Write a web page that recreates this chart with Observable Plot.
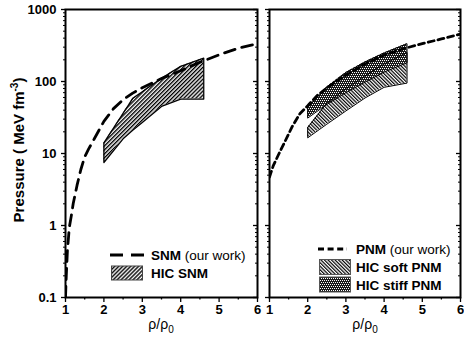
<!DOCTYPE html>
<html><head><meta charset="utf-8">
<script src="https://cdn.jsdelivr.net/npm/d3@7"></script>
<script src="https://cdn.jsdelivr.net/npm/@observablehq/plot@0.6"></script>
<style>
body{margin:0;background:#fff;}
#wrap{position:relative;width:464px;height:340px;}
</style></head><body><div id="wrap"></div>
<script>
// ---- data ----
const snmRho = [1.0, 1.02, 1.05, 1.1, 1.15, 1.2, 1.3, 1.4, 1.5, 1.6, 1.75, 2, 2.25, 2.5, 2.75, 3, 3.5, 4, 4.5, 5, 5.5, 6];
const snmP   = [0.1, 0.2, 0.45, 0.95, 1.35, 2.0, 3.6, 6.0, 9.0, 11.5, 16, 28, 42, 56, 69, 82, 110, 141, 185, 235, 290, 335];
const pnmRho = [1.0, 1.1, 1.25, 1.4, 1.6, 1.8, 2.0, 2.25, 2.5, 2.75, 3, 3.5, 4, 4.5, 5, 5.5, 6];
const pnmP   = [4.7, 6.8, 10, 14.5, 24, 36, 46, 64, 81, 100, 122, 175, 232, 285, 335, 390, 455];
const hicSnmRho = [2, 2.5, 2.75, 3, 3.5, 4, 4.6];
const hicSnmLo  = [7.5, 16, 21, 27, 45, 57, 57];
const hicSnmHi  = [14, 36, 58, 72, 111, 162, 211];
const hicPnmRho  = [2, 2.5, 3, 3.5, 4, 4.6];
const hicSoftLo  = [16.5, 25.5, 39, 59, 83, 95];
const hicSoftHi  = [23, 50, 80, 120, 175, 253];
const hicStiffLo = [31, 48, 70, 98, 135, 182];
const hicStiffHi = [43.5, 84, 133, 187, 249, 335];
const yTicks = [0.1, 1, 10, 100, 1000];
const yTickLabels = ["0.1", "1", "10", "100", "1000"];
const xTicks = [1, 2, 3, 4, 5, 6];
const xTickLabels = ["1", "2", "3", "4", "5", "6"];
const xMinor = [1.5, 2.5, 3.5, 4.5, 5.5];
const yMinor = [0.2,0.3,0.4,0.5,0.6,0.7,0.8,0.9,2,3,4,5,6,7,8,9,20,30,40,50,60,70,80,90,200,300,400,500,600,700,800,900];
const legendSNM = ["SNM", " (our work)", "HIC SNM"];
const legendPNM = ["PNM", " (our work)", "HIC soft PNM", "HIC stiff PNM"];

// ---- helpers ----
const FONT = "'Liberation Sans', Arial, Helvetica, sans-serif";
const curve = (xs, ys) => xs.map((x, i) => ({rho: x, p: ys[i]}));
const band = (xs, lo, hi) => xs.map((x, i) => ({rho: x, lo: lo[i], hi: hi[i]}));
const outline = (xs, lo, hi) => {
  const pts = xs.map((x, i) => ({rho: x, p: hi[i]}));
  for (let i = xs.length - 1; i >= 0; i--) pts.push({rho: xs[i], p: lo[i]});
  pts.push({rho: xs[0], p: hi[0]});
  return pts;
};

function axes(showLabels, plotW) {
  return [
    Plot.frame({stroke: "#000", strokeWidth: 2}),
    Plot.axisY(yTicks, {anchor: "left", tickSize: 4, tickPadding: 5, strokeWidth: 1.3,
      tickFormat: d => showLabels ? yTickLabels[yTicks.indexOf(d)] : "", label: null}),
    Plot.axisY(yMinor, {anchor: "left", tickSize: 2, strokeWidth: 1, tickFormat: () => "", label: null}),
    Plot.ruleY(yTicks, {stroke: "#000", strokeWidth: 1.3, insetLeft: plotW - 4}),
    Plot.ruleY(yMinor, {stroke: "#000", strokeWidth: 1, insetLeft: plotW - 2}),
    Plot.axisX(xTicks, {anchor: "bottom", tickSize: 5, tickPadding: 2, strokeWidth: 1.3,
      tickFormat: d => xTickLabels[xTicks.indexOf(d)], label: null}),
    Plot.axisX(xMinor, {anchor: "bottom", tickSize: 2.5, strokeWidth: 1.3, tickFormat: () => "", label: null})
  ];
}

const common = {
  height: 340, marginTop: 9, marginBottom: 43,
  x: {domain: [1, 6]},
  y: {type: "log", domain: [0.1, 1000]}
};
const baseStyle = {fontFamily: FONT, fontSize: "13px", fontWeight: "bold", color: "#000",
  background: "transparent", overflow: "visible", position: "absolute", top: "0px"};

// ---- left panel (SNM) ----
const left = Plot.plot({
  ...common, width: 260, marginLeft: 65, marginRight: 3,
  style: {...baseStyle, left: "0px"},
  marks: [
    Plot.areaY(band(hicSnmRho, hicSnmLo, hicSnmHi), {x: "rho", y1: "lo", y2: "hi", fill: "url(#hSNM)"}),
    Plot.line(outline(hicSnmRho, hicSnmLo, hicSnmHi), {x: "rho", y: "p", stroke: "#000", strokeWidth: 1.3}),
    Plot.line(curve(snmRho, snmP), {x: "rho", y: "p", stroke: "#000", strokeWidth: 2.8, strokeDasharray: "11,7", clip: true}),
    ...axes(true, 192)
  ]
});

// ---- right panel (PNM) ----
const right = Plot.plot({
  ...common, width: 204, marginLeft: 9, marginRight: 4,
  style: {...baseStyle, left: "260px"},
  marks: [
    Plot.areaY(band(hicPnmRho, hicSoftLo, hicSoftHi), {x: "rho", y1: "lo", y2: "hi", fill: "url(#hSoft)"}),
    Plot.areaY(band(hicPnmRho, hicStiffLo, hicStiffHi), {x: "rho", y1: "lo", y2: "hi", fill: "url(#hStiff)"}),
    Plot.line(outline(hicPnmRho, hicSoftLo, hicSoftHi), {x: "rho", y: "p", stroke: "#000", strokeWidth: 1}),
    Plot.line(outline(hicPnmRho, hicStiffLo, hicStiffHi), {x: "rho", y: "p", stroke: "#000", strokeWidth: 1}),
    Plot.line(curve(pnmRho, pnmP), {x: "rho", y: "p", stroke: "#000", strokeWidth: 2.8, strokeDasharray: "6,4", clip: true}),
    ...axes(false, 191)
  ]
});

const wrap = document.getElementById("wrap");
wrap.append(left, right);

// ---- patterns ----
const dl = d3.select(left).insert("defs", ":first-child");
dl.append("pattern").attr("id", "hSNM").attr("patternUnits", "userSpaceOnUse")
  .attr("width", 2.8).attr("height", 10).attr("patternTransform", "rotate(45)")
  .append("rect").attr("x", 0).attr("y", 0).attr("width", 1.4).attr("height", 10).attr("fill", "#000");
const dr = d3.select(right).insert("defs", ":first-child");
dr.append("pattern").attr("id", "hSoft").attr("patternUnits", "userSpaceOnUse")
  .attr("width", 2.5).attr("height", 10).attr("patternTransform", "rotate(-45)")
  .append("rect").attr("x", 0).attr("y", 0).attr("width", 1.2).attr("height", 10).attr("fill", "#000");
const ps = dr.append("pattern").attr("id", "hStiff").attr("patternUnits", "userSpaceOnUse")
  .attr("width", 4).attr("height", 4);
ps.append("rect").attr("x", 0).attr("y", 0).attr("width", 4).attr("height", 4).attr("fill", "#1a1a1a");
[[0, 0], [2, 0], [1, 2], [3, 2]].forEach(([x, y]) =>
  ps.append("rect").attr("x", x).attr("y", y).attr("width", 1).attr("height", 1).attr("fill", "#fff"));

// ---- axis titles ----
const sl = d3.select(left);
const yt = sl.append("text").attr("transform", "translate(24,150) rotate(-90)")
  .attr("text-anchor", "middle").attr("font-size", 15).attr("font-weight", "bold").attr("fill", "#000");
yt.append("tspan").text("Pressure ( MeV fm");
yt.append("tspan").attr("dy", -6).attr("font-size", 10).text("-3");
yt.append("tspan").attr("dy", 6).text(")");

function xTitle(svg, cx) {
  const t = d3.select(svg).append("text").attr("x", cx).attr("y", 329)
    .attr("text-anchor", "middle").attr("font-size", 14).attr("font-weight", "normal").attr("fill", "#000");
  t.append("tspan").text("ρ/ρ");
  t.append("tspan").attr("dy", 4).attr("font-size", 10).text("0");
}
xTitle(left, 161);
xTitle(right, 365 - 260);

// ---- legends ----
function legText(sel, x, y, bold, normal) {
  const t = sel.append("text").attr("x", x).attr("y", y).attr("font-size", 13.5)
    .attr("text-anchor", "start").attr("fill", "#000");
  t.append("tspan").attr("font-weight", "bold").text(bold);
  if (normal) t.append("tspan").attr("font-weight", "normal").text(normal);
}
const gl = sl.append("g");
gl.append("line").attr("x1", 110).attr("x2", 144).attr("y1", 255).attr("y2", 255)
  .attr("stroke", "#000").attr("stroke-width", 2.8).attr("stroke-dasharray", "13,8");
legText(gl, 151, 260, legendSNM[0], legendSNM[1]);
gl.append("rect").attr("x", 111.5).attr("y", 266).attr("width", 31).attr("height", 14)
  .attr("fill", "url(#hSNM)").attr("stroke", "#444").attr("stroke-width", 1);
legText(gl, 151, 278, legendSNM[2]);

const gr = d3.select(right).append("g").attr("transform", "translate(-260,0)");
gr.append("line").attr("x1", 318).attr("x2", 347).attr("y1", 249).attr("y2", 249)
  .attr("stroke", "#000").attr("stroke-width", 2.8).attr("stroke-dasharray", "6,3.6");
legText(gr, 356, 254, legendPNM[0], legendPNM[1]);
gr.append("rect").attr("x", 319.5).attr("y", 259.5).attr("width", 31).attr("height", 15)
  .attr("fill", "url(#hSoft)").attr("stroke", "#555").attr("stroke-width", 1);
legText(gr, 356, 272, legendPNM[2]);
gr.append("rect").attr("x", 319.5).attr("y", 277).attr("width", 31).attr("height", 15)
  .attr("fill", "url(#hStiff)").attr("stroke", "#555").attr("stroke-width", 1);
legText(gr, 356, 290, legendPNM[3]);
</script>
</body></html>
